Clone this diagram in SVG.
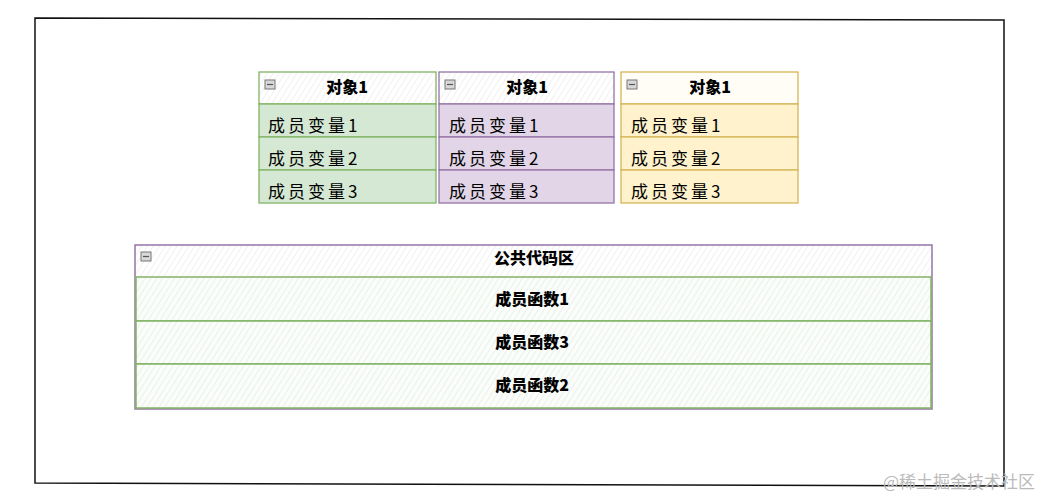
<svg xmlns="http://www.w3.org/2000/svg" width="1049" height="498" viewBox="0 0 1049 498">
<style>
.hdr{font-family:"Noto Sans CJK SC","Noto Sans",sans-serif;font-weight:900;font-size:16px;fill:#000;text-anchor:middle}
.row{font-family:"Noto Sans CJK SC",sans-serif;font-weight:400;font-size:17px;fill:#000;letter-spacing:3px}
.fn{font-family:"Noto Sans CJK SC","Noto Sans",sans-serif;font-weight:900;font-size:16px;fill:#000;text-anchor:middle}
.g{fill:#d5e8d4;stroke:#82b366;stroke-width:1.3}
.p{fill:#e1d5e7;stroke:#9673a6;stroke-width:1.3}
.y{fill:#fff2cc;stroke:#d6b656;stroke-width:1.3}
.icon{fill:#d8d8d8;stroke:#777;stroke-width:1}
</style>
<defs>
<pattern id="hw" width="5" height="5" patternUnits="userSpaceOnUse" patternTransform="rotate(32)">
<rect width="5" height="5" fill="#fff"/>
<line x1="0" y1="0" x2="0" y2="5" stroke="#e2e2e2" stroke-width="1"/>
</pattern>
<pattern id="hg" width="5" height="5" patternUnits="userSpaceOnUse" patternTransform="rotate(32)">
<rect width="5" height="5" fill="#fbfdfb"/>
<line x1="0" y1="0" x2="0" y2="5" stroke="#d9e6d8" stroke-width="1"/>
</pattern>
<g id="ic"><rect x="0" y="0" width="10" height="9" class="icon"/><line x1="2" y1="4.5" x2="8" y2="4.5" stroke="#555" stroke-width="1.2"/></g>
</defs>
<rect width="1049" height="498" fill="#fff"/>
<path d="M35 18 L1004 20 L1004 486 L35 483 Z" fill="none" stroke="#111" stroke-width="1.5"/>

<g id="obj1">
<rect x="259" y="72" width="177" height="32" fill="url(#hw)" stroke="#82b366" stroke-width="1.3"/>
<rect x="259" y="104" width="177" height="33" class="g"/>
<rect x="259" y="137" width="177" height="33" class="g"/>
<rect x="259" y="170" width="177" height="33" class="g"/>
<use href="#ic" x="265" y="80"/>
<text x="347" y="93" class="hdr">对象1</text>
<text x="268" y="132" class="row">成员变量1</text>
<text x="268" y="165" class="row">成员变量2</text>
<text x="268" y="198" class="row">成员变量3</text>
</g>
<g id="obj2">
<rect x="439" y="72" width="175" height="32" fill="url(#hw)" stroke="#9673a6" stroke-width="1.3"/>
<rect x="439" y="104" width="175" height="33" class="p"/>
<rect x="439" y="137" width="175" height="33" class="p"/>
<rect x="439" y="170" width="175" height="33" class="p"/>
<use href="#ic" x="445" y="80"/>
<text x="527" y="93" class="hdr">对象1</text>
<text x="449" y="132" class="row">成员变量1</text>
<text x="449" y="165" class="row">成员变量2</text>
<text x="449" y="198" class="row">成员变量3</text>
</g>
<g id="obj3">
<rect x="621" y="72" width="177" height="32" fill="#fffdf5" stroke="#d6b656" stroke-width="1.3"/>
<rect x="621" y="104" width="177" height="33" class="y"/>
<rect x="621" y="137" width="177" height="33" class="y"/>
<rect x="621" y="170" width="177" height="33" class="y"/>
<use href="#ic" x="627" y="80"/>
<text x="710" y="93" class="hdr">对象1</text>
<text x="631" y="132" class="row">成员变量1</text>
<text x="631" y="165" class="row">成员变量2</text>
<text x="631" y="198" class="row">成员变量3</text>
</g>
<g id="code">
<rect x="135" y="245" width="797" height="164" fill="url(#hw)" stroke="#9673a6" stroke-width="1.5"/>
<rect x="136" y="277" width="795" height="44" fill="url(#hg)" stroke="#82b366" stroke-width="1.5"/>
<rect x="136" y="321" width="795" height="43" fill="url(#hg)" stroke="#82b366" stroke-width="1.5"/>
<rect x="136" y="364" width="795" height="44" fill="url(#hg)" stroke="#82b366" stroke-width="1.5"/>
<use href="#ic" x="141" y="252"/>
<text x="534" y="264" class="fn">公共代码区</text>
<text x="532" y="305" class="fn">成员函数1</text>
<text x="532" y="348" class="fn">成员函数3</text>
<text x="532" y="391" class="fn">成员函数2</text>
</g>
<g id="connectors"/>
<text x="883" y="488" font-family="Noto Sans CJK SC,sans-serif" font-size="17" fill="#bbb">@稀土掘金技术社区</text>
</svg>
